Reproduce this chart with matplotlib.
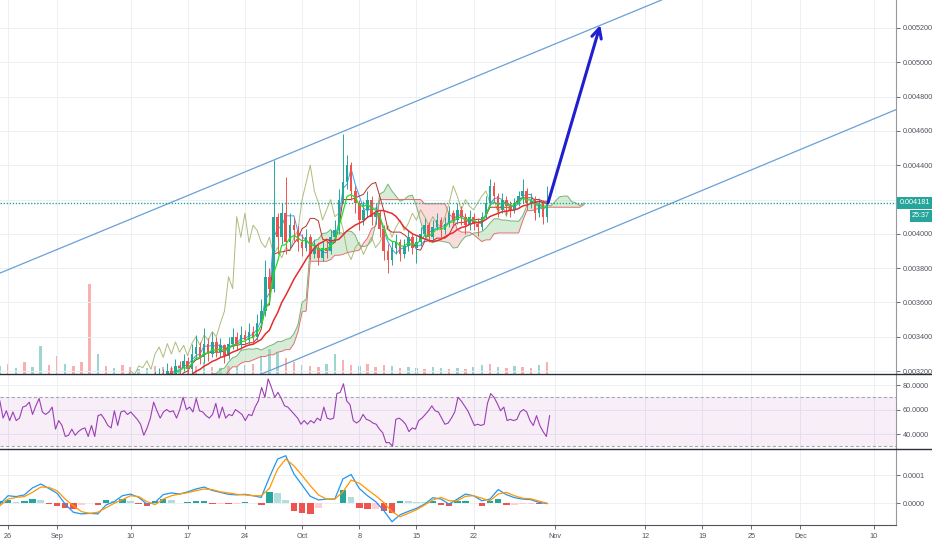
import numpy as np
import pandas as pd
import matplotlib.pyplot as plt
from matplotlib.lines import Line2D
from matplotlib.transforms import blended_transform_factory

plt.rcParams['font.family'] = ['Liberation Sans', 'DejaVu Sans']

# 12h candles, day 0 = 1 Sep
close = [0.00308, 0.00312, 0.00306, 0.00310, 0.00314, 0.00309, 0.00305, 0.00303, 0.00307, 0.00304,
         0.00306, 0.00302, 0.00300, 0.00304, 0.00308, 0.00305, 0.00309, 0.00312, 0.00310, 0.00314,
         0.00308, 0.00312, 0.00310, 0.00313, 0.00315, 0.00318, 0.00316, 0.00320, 0.00318, 0.00323,
         0.00322, 0.00326, 0.00321, 0.00330, 0.00334, 0.00328, 0.00336, 0.00330, 0.00337, 0.00331,
         0.00335, 0.00329, 0.00336, 0.00340, 0.00335, 0.00341, 0.00338, 0.00343, 0.00340, 0.00348,
         0.00355, 0.00375, 0.00368, 0.00410, 0.00398, 0.00412, 0.00395, 0.00405, 0.00402, 0.00395,
         0.00392, 0.00398, 0.00388, 0.00392, 0.00386, 0.00392, 0.00390, 0.00398, 0.00402, 0.00420,
         0.00430, 0.00440, 0.00425, 0.00418, 0.00408, 0.00414, 0.00420, 0.00410, 0.00412, 0.00403,
         0.00390, 0.00385, 0.00392, 0.00395, 0.00388, 0.00393, 0.00398, 0.00392, 0.00395, 0.00400,
         0.00405, 0.00398, 0.00404, 0.00408, 0.00402, 0.00406, 0.00412, 0.00408, 0.00414, 0.00410,
         0.00405, 0.00410, 0.00406, 0.00404, 0.00410, 0.00418, 0.00428, 0.00422, 0.00414, 0.00420,
         0.00416, 0.00414, 0.00418, 0.00422, 0.00425, 0.00418, 0.00420, 0.00412, 0.00418, 0.00410,
         0.004181]
high = [0.00314, 0.00316, 0.00313, 0.00315, 0.00318, 0.00316, 0.00311, 0.00308, 0.00312, 0.00310,
        0.00313, 0.00309, 0.00305, 0.00309, 0.00312, 0.00311, 0.00314, 0.00317, 0.00316, 0.00318,
        0.00314, 0.00316, 0.00315, 0.00318, 0.00320, 0.00322, 0.00321, 0.00325, 0.00323, 0.00327,
        0.00326, 0.00330, 0.00328, 0.00336, 0.00341, 0.00337, 0.00345, 0.00339, 0.00343, 0.00340,
        0.00339, 0.00336, 0.00340, 0.00345, 0.00343, 0.00346, 0.00344, 0.00348, 0.00346, 0.00353,
        0.00362, 0.00385, 0.00380, 0.00443, 0.00412, 0.00418, 0.00433, 0.00412, 0.00410, 0.00405,
        0.00400, 0.00403, 0.00400, 0.00397, 0.00394, 0.00396, 0.00396, 0.00402, 0.00408, 0.00426,
        0.00458, 0.00446, 0.00442, 0.00428, 0.00420, 0.00419, 0.00425, 0.00422, 0.00418, 0.00414,
        0.00405, 0.00394, 0.00396, 0.00400, 0.00397, 0.00397, 0.00402, 0.00400, 0.00399, 0.00404,
        0.00409, 0.00407, 0.00408, 0.00412, 0.00410, 0.00410, 0.00416, 0.00414, 0.00418, 0.00416,
        0.00412, 0.00414, 0.00412, 0.00409, 0.00413, 0.00422, 0.00432, 0.00430, 0.00424, 0.00424,
        0.00422, 0.00419, 0.00421, 0.00425, 0.00432, 0.00427, 0.00424, 0.00422, 0.00421, 0.00420,
        0.00428]
low = [0.00303, 0.00306, 0.00302, 0.00304, 0.00308, 0.00305, 0.00300, 0.00299, 0.00301, 0.00300,
       0.00302, 0.00298, 0.00296, 0.00299, 0.00302, 0.00301, 0.00303, 0.00306, 0.00305, 0.00308,
       0.00304, 0.00306, 0.00306, 0.00308, 0.00310, 0.00312, 0.00312, 0.00314, 0.00314, 0.00316,
       0.00318, 0.00320, 0.00317, 0.00319, 0.00327, 0.00324, 0.00325, 0.00326, 0.00328, 0.00328,
       0.00328, 0.00325, 0.00327, 0.00333, 0.00332, 0.00333, 0.00335, 0.00336, 0.00337, 0.00338,
       0.00346, 0.00352, 0.00363, 0.00366, 0.00388, 0.00394, 0.00388, 0.00392, 0.00396, 0.00390,
       0.00387, 0.00390, 0.00385, 0.00386, 0.00382, 0.00384, 0.00386, 0.00388, 0.00395, 0.00400,
       0.00418, 0.00426, 0.00420, 0.00412, 0.00402, 0.00405, 0.00410, 0.00405, 0.00406, 0.00398,
       0.00385, 0.00377, 0.00382, 0.00388, 0.00384, 0.00386, 0.00390, 0.00388, 0.00383, 0.00393,
       0.00398, 0.00395, 0.00396, 0.00402, 0.00398, 0.00400, 0.00404, 0.00404, 0.00406, 0.00405,
       0.00400, 0.00402, 0.00402, 0.00399, 0.00402, 0.00409, 0.00416, 0.00418, 0.00410, 0.00412,
       0.00411, 0.00410, 0.00412, 0.00416, 0.00418, 0.00414, 0.00415, 0.00408, 0.00410, 0.00406,
       0.00407]

# daily volume (arbitrary units), day -7 = 25 Aug
vol = [8, 10, 6, 12, 7, 28, 9, 18, 10, 8,
       12, 90, 20, 8, 6, 9, 7, 5, 6, 8,
       7, 6, 9, 10, 8, 12, 7, 6, 8, 7,
       9, 10, 18, 25, 22, 16, 12, 9, 8, 7,
       10, 20, 14, 9, 8, 10, 7, 9, 8, 6,
       7, 6, 5, 7, 6, 5, 6, 5, 7, 9,
       10, 7, 6, 8, 7, 6, 9, 12]
vol_up = [1, 0, 1, 0, 1, 1, 0, 0, 1, 0,
          0, 0, 1, 0, 1, 0, 0, 1, 1, 0,
          1, 0, 1, 1, 0, 1, 0, 1, 0, 1,
          1, 0, 1, 1, 1, 0, 0, 1, 0, 0,
          1, 1, 0, 0, 1, 0, 0, 0, 1, 0,
          1, 1, 0, 1, 1, 0, 1, 0, 1, 1,
          0, 1, 0, 1, 0, 0, 1, 0]

# RSI from the left edge to the last candle
rsi = [67, 53, 59, 51, 58, 51, 53, 62, 63, 66,
       56, 63, 69, 58, 56, 58, 62, 44, 51, 47,
       38, 39, 44, 39, 42, 44, 45, 38, 47, 38,
       55, 56, 52, 47, 45, 59, 47, 58, 59, 56,
       58, 55, 52, 48, 39, 45, 53, 66, 59, 53,
       58, 60, 58, 59, 53, 60, 70, 60, 62, 58,
       69, 59, 58, 55, 53, 56, 65, 53, 62, 53,
       56, 55, 60, 58, 56, 51, 56, 55, 62, 67,
       78, 70, 85, 78,
       70, 74, 69, 63, 62, 59, 56, 53, 48, 51,
       48, 51, 49, 53, 51, 62, 53, 52, 53, 73,
       74, 81, 67, 64, 51, 49, 51, 56, 52, 51,
       49, 48, 44, 41, 33, 33, 30, 52, 53, 51,
       48, 42, 45, 44, 51, 53, 56, 59, 63, 59,
       58, 53, 48, 49, 53, 58, 70, 67, 63, 59,
       53, 47, 48, 47, 48, 65, 73, 70, 65, 59,
       62, 51, 52, 51, 52, 58, 60, 58, 51, 47,
       55, 47, 42, 38, 55]

# MACD, daily from day -7, in units of 1e-4
macd_e4 = [-0.04, 0.26, 0.23, 0.29, 0.54, 0.68, 0.52, 0.35, -0.04, -0.33,
           -0.39, -0.37, -0.39, -0.07, 0.05, 0.26, 0.32, 0.20, -0.04, 0.02,
           0.30, 0.36, 0.32, 0.40, 0.50, 0.57, 0.45, 0.38, 0.31, 0.29,
           0.31, 0.26, 0.20, 0.92, 1.57, 1.69, 1.04, 0.64, 0.24, 0.11,
           0.14, 0.14, 0.86, 1.02, 0.52, 0.26, 0.05, -0.27, -0.67, -0.42,
           -0.30, -0.19, -0.04, 0.19, 0.14, -0.04, 0.14, 0.32, 0.26, 0.08,
           0.14, 0.48, 0.30, 0.19, 0.14, 0.12, 0.02, -0.02]
signal_e4 = [-0.10, 0.14, 0.20, 0.23, 0.38, 0.57, 0.56, 0.44, 0.14, -0.10,
             -0.31, -0.37, -0.33, -0.17, -0.01, 0.12, 0.26, 0.23, 0.05, -0.06,
             0.14, 0.26, 0.32, 0.37, 0.44, 0.50, 0.48, 0.40, 0.36, 0.31,
             0.29, 0.26, 0.26, 0.52, 1.21, 1.57, 1.33, 0.98, 0.62, 0.29,
             0.14, 0.14, 0.40, 0.82, 0.71, 0.48, 0.26, 0.02, -0.31, -0.49,
             -0.37, -0.24, -0.07, 0.11, 0.20, 0.08, 0.08, 0.24, 0.26, 0.17,
             0.08, 0.32, 0.38, 0.26, 0.17, 0.15, 0.07, -0.01]

last_price = 0.004181
timer = '25:37'

price_ticks = [0.0032, 0.0034, 0.0036, 0.0038, 0.0040, 0.0042, 0.0044, 0.0046, 0.0048, 0.0050, 0.0052]
rsi_ticks = [40, 60, 80]
macd_ticks = [0.0, 0.0001]
date_ticks = [-6, 0, 9, 16, 23, 30, 37, 44, 51, 61, 72, 79, 85, 91, 100]
date_labels = ['26', 'Sep', '10', '17', '24', 'Oct', '8', '15', '22', 'Nov', '12', '19', '25', 'Dec', '10']

# drawings (day, price)
upper_channel = ([-7, 74], [0.003771, 0.005363])
lower_channel = ([-7, 103], [0.002547, 0.00473])
target_arrow = ([60.1, 66.5], [0.00418, 0.005217])

xmin, xmax = -6.98, 102.7
fs = 5.2

c = np.array(close)
h = np.array(high)
l = np.array(low)
o = np.r_[c[0], c[:-1]]
t = np.arange(len(c)) * 0.5

# indicators on the 12h bars
s = pd.Series(c)
ma_fast = s.ewm(span=5, adjust=False).mean()
ma_slow = s.rolling(14).mean()
hs, ls_ = pd.Series(h), pd.Series(l)
tenkan = (hs.rolling(3).max() + ls_.rolling(3).min()) / 2
kijun = (hs.rolling(9).max() + ls_.rolling(9).min()) / 2
span_a = ((tenkan + kijun) / 2).values
span_b = ((hs.rolling(17).max() + ls_.rolling(17).min()) / 2).values
shift = 9
t_lead = t + shift * 0.5
t_lag = t - shift * 0.5

fig = plt.figure(figsize=(9.32, 5.5), dpi=100)
W = 896 / 932
main_rect = [0, 1 - 374 / 550, W, 374 / 550]
axv = fig.add_axes(main_rect, label='vol')
ax = fig.add_axes(main_rect, label='price')
ax_rsi = fig.add_axes([0, 1 - 449 / 550, W, 75 / 550])
ax_macd = fig.add_axes([0, 1 - 525 / 550, W, 76 / 550])

lab_col = '#50535e'
for a in (ax, ax_rsi, ax_macd):
    a.set_xlim(xmin, xmax)
    for sp in ['top', 'left', 'bottom']:
        a.spines[sp].set_visible(False)
    a.spines['right'].set_color('#9598a1')
    a.spines['right'].set_linewidth(0.8)
    a.yaxis.tick_right()
    a.tick_params(axis='y', labelsize=fs, colors=lab_col, length=3, width=0.6, pad=2)
    a.set_xticks(date_ticks)
    a.tick_params(axis='x', length=0, labelbottom=False)
    a.grid(True, color='#eceff3', lw=0.7)
    a.set_axisbelow(True)

# volume
axv.set_xlim(xmin, xmax)
axv.set_ylim(0, 374)
axv.axis('off')
vd = np.arange(len(vol)) - 7
vcol = ['#26a69a' if u else '#ef5350' for u in vol_up]
axv.bar(vd, vol, width=0.3, color=vcol, alpha=0.45)
ax.patch.set_alpha(0)

# main price panel (the 0.004200 label sits under the price box)
ax.set_ylim(0.003183, 0.005363)
ax.set_yticks(price_ticks)
ax.set_yticklabels(['' if abs(p - 0.0042) < 1e-9 else '%.6f' % p for p in price_ticks])

ax.fill_between(t_lead, span_a, span_b, where=span_a >= span_b, interpolate=True,
                color='#a5d6a7', alpha=0.45, lw=0)
ax.fill_between(t_lead, span_a, span_b, where=span_a < span_b, interpolate=True,
                color='#f4b3b3', alpha=0.45, lw=0)
ax.plot(t_lead, span_a, color='#78b478', lw=0.7)
ax.plot(t_lead, span_b, color='#e07070', lw=0.7)
ax.plot(t_lag, c, color='#9aab5c', lw=0.7, alpha=0.8)
ax.plot(t, tenkan, color='#3d9df5', lw=0.7)
ax.plot(t, kijun, color='#b8302a', lw=0.7)

up = c >= o
col = np.where(up, '#26a69a', '#ef5350')
ax.vlines(t, l, h, colors=col, lw=0.7, zorder=3)
ax.bar(t, np.abs(c - o), bottom=np.minimum(o, c), width=0.32, color=col, zorder=4)

ax.plot(t, ma_fast, color='#22dd22', lw=0.9, zorder=5)
ax.plot(t, ma_slow, color='#e52d2d', lw=1.1, zorder=5)

ax.plot(*upper_channel, color='#6a9fd8', lw=0.9)
ax.plot(*lower_channel, color='#6a9fd8', lw=0.9)
ax.axhline(last_price, color='#26a69a', lw=1.0, ls=(0, (1, 1.2)), zorder=6)
ax.annotate('', xy=(target_arrow[0][1], target_arrow[1][1]),
            xytext=(target_arrow[0][0], target_arrow[1][0]),
            arrowprops=dict(arrowstyle='->,head_length=0.7,head_width=0.35', color='#1f1fd0',
                            lw=2.2, shrinkA=0, shrinkB=0), zorder=7)

trans = blended_transform_factory(ax.transAxes, ax.transData)
ax.text(1.004, last_price, '%.6f' % last_price, transform=trans, ha='left', va='center',
        fontsize=fs, color='white', clip_on=False, zorder=10,
        bbox=dict(boxstyle='square,pad=0.35', fc='#26a69a', ec='none'))
ax.annotate(timer, xy=(1.038, last_price), xycoords=trans, xytext=(0, -9.5),
            textcoords='offset points', ha='right', va='center', fontsize=fs, color='white',
            annotation_clip=False, zorder=10,
            bbox=dict(boxstyle='square,pad=0.35', fc='#26a69a', ec='none'))

# RSI panel
ax_rsi.set_ylim(27.8, 89)
ax_rsi.set_yticks(rsi_ticks)
ax_rsi.set_yticklabels(['%.4f' % v for v in rsi_ticks])
ax_rsi.axhspan(30, 70, color='#9c27b0', alpha=0.08, lw=0)
for lev in (30, 70):
    ax_rsi.axhline(lev, color='#a8a8b0', lw=0.8, ls=(0, (3, 2)))
ax_rsi.plot(np.linspace(-7, 60.3, len(rsi)), rsi, color='#9b3fb5', lw=0.8)

# MACD panel
md = np.arange(len(macd_e4)) - 7
m = np.array(macd_e4) * 1e-4
sg = np.array(signal_e4) * 1e-4
hist = m - sg
prev = np.r_[hist[0], hist[:-1]]
hcol = np.where(hist >= 0, np.where(hist >= prev, '#26a69a', '#b2dfdb'),
                np.where(hist < prev, '#ef5350', '#ffcdd2'))
ax_macd.set_ylim(-0.0000786, 0.000193)
ax_macd.set_yticks(macd_ticks)
ax_macd.set_yticklabels(['%.4f' % v for v in macd_ticks])
ax_macd.bar(md, hist, width=0.8, color=hcol)
ax_macd.plot(md, m, color='#2196f3', lw=0.9)
ax_macd.plot(md, sg, color='#ff9800', lw=0.9)
ax_macd.spines['bottom'].set_visible(True)
ax_macd.spines['bottom'].set_color('#50535e')
ax_macd.spines['bottom'].set_linewidth(0.8)
ax_macd.set_xticks(date_ticks)
ax_macd.set_xticklabels(date_labels)
ax_macd.tick_params(axis='x', length=3, width=0.6, colors=lab_col, labelsize=fs,
                    labelbottom=True, pad=3)

for yy in (374, 449):
    fig.add_artist(Line2D([0, 1], [1 - yy / 550, 1 - yy / 550], transform=fig.transFigure,
                          color='#2a2e39', lw=1))

fig.savefig('out.png', dpi=100)
